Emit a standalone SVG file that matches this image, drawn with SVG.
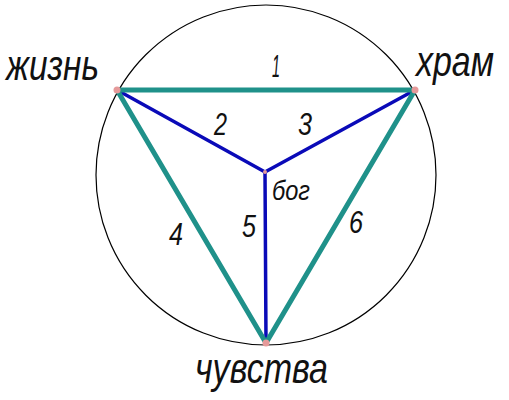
<svg xmlns="http://www.w3.org/2000/svg" width="509" height="400" viewBox="0 0 509 400">
<style>
.lbl{font-family:"Liberation Sans","DejaVu Sans",sans-serif;font-style:italic;fill:#111;}
.big{font-size:42px;}
.num{font-size:31px;}
.teal{stroke:#1f918a;stroke-width:5;stroke-linecap:round;fill:none;}
.blue{stroke:#0a0ab8;stroke-width:3.5;stroke-linecap:round;fill:none;}
.dot{fill:#e59a9a;}
</style>
<rect width="509" height="400" fill="#fff"/>
<circle cx="266" cy="175" r="170" fill="none" stroke="#000" stroke-width="1.2"/>
<g id="connectors">
<line class="blue" x1="117" y1="90" x2="265" y2="172"/>
<line class="blue" x1="415" y1="90" x2="265" y2="172"/>
<line class="blue" x1="265" y1="172" x2="266" y2="343"/>
<line class="teal" x1="117" y1="90" x2="415" y2="90"/>
<line class="teal" x1="117" y1="90" x2="266" y2="343"/>
<line class="teal" x1="415" y1="90" x2="266" y2="343"/>
<text class="lbl num" x="272" y="77" textLength="8" lengthAdjust="spacingAndGlyphs">1</text>
<text class="lbl num" x="214" y="135" textLength="13" lengthAdjust="spacingAndGlyphs">2</text>
<text class="lbl num" x="298" y="135" textLength="14" lengthAdjust="spacingAndGlyphs">3</text>
<text class="lbl num" x="169" y="245" textLength="14" lengthAdjust="spacingAndGlyphs">4</text>
<text class="lbl num" x="242" y="237" textLength="14" lengthAdjust="spacingAndGlyphs">5</text>
<text class="lbl num" x="349" y="233" textLength="14" lengthAdjust="spacingAndGlyphs">6</text>
</g>
<g id="zhizn">
<circle class="dot" cx="117" cy="90" r="3.5"/>
<text class="lbl big" x="6" y="80" textLength="93" lengthAdjust="spacingAndGlyphs">жизнь</text>
</g>
<g id="khram">
<circle class="dot" cx="415" cy="90" r="3.5"/>
<text class="lbl big" x="416" y="76" textLength="78" lengthAdjust="spacingAndGlyphs">храм</text>
</g>
<g id="chuvstva">
<circle class="dot" cx="266" cy="343" r="3.5"/>
<text class="lbl big" x="195" y="383" textLength="133" lengthAdjust="spacingAndGlyphs">чувства</text>
</g>
<g id="bog">
<circle class="dot" cx="265" cy="172" r="2"/>
<text class="lbl" style="font-size:28px" x="272" y="200" textLength="38" lengthAdjust="spacingAndGlyphs">бог</text>
</g>
</svg>
